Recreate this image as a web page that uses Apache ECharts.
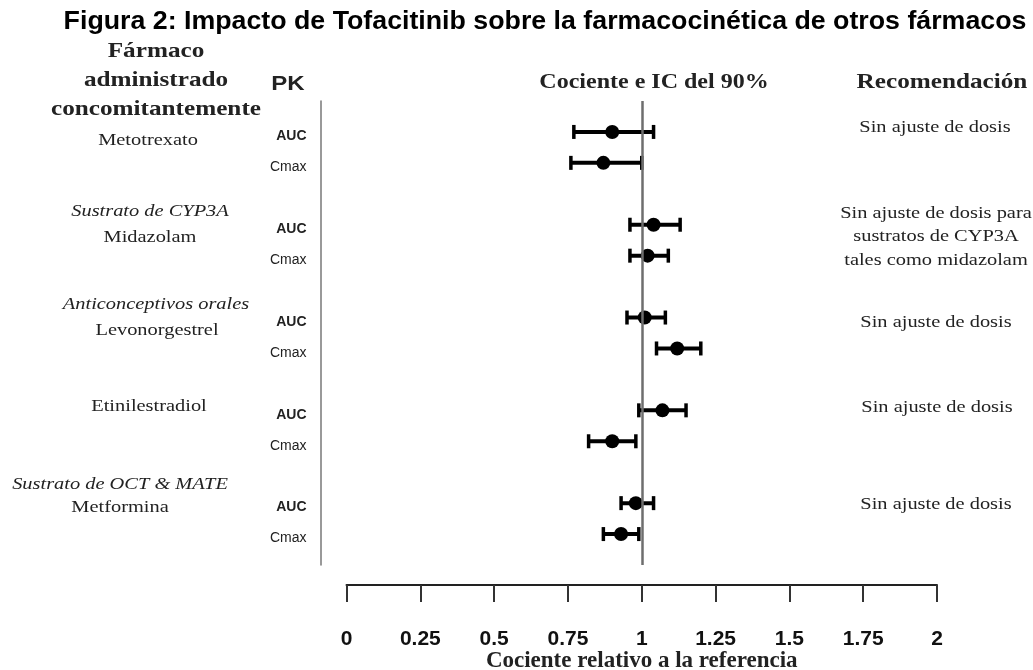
<!DOCTYPE html>
<html>
<head>
<meta charset="utf-8">
<script src="https://cdn.jsdelivr.net/npm/echarts@6/dist/echarts.min.js"></script>
<style>
html,body{margin:0;padding:0;background:#fff;}
#chart{width:1033px;height:670px;}
</style>
</head>
<body>
<div id="chart"></div>
<script>
// ---- data ----
const titleText = 'Figura 2: Impacto de Tofacitinib sobre la farmacocinética de otros fármacos';
const drugs = ['Metotrexato', 'Midazolam', 'Levonorgestrel', 'Etinilestradiol', 'Metformina'];
const drugGroups = ['', 'Sustrato de CYP3A', 'Anticonceptivos orales', '', 'Sustrato de OCT & MATE'];
const pkParams = ['AUC', 'Cmax'];
const ratioAUC = [0.90, 1.04, 1.01, 1.07, 0.98];
const lowAUC   = [0.77, 0.96, 0.95, 0.99, 0.93];
const highAUC  = [1.04, 1.13, 1.08, 1.15, 1.04];
const ratioCmax = [0.87, 1.02, 1.12, 0.90, 0.93];
const lowCmax   = [0.76, 0.96, 1.05, 0.82, 0.87];
const highCmax  = [1.00, 1.09, 1.20, 0.98, 0.99];
const recommendations = [
  'Sin ajuste de dosis',
  'Sin ajuste de dosis para\nsustratos de CYP3A\ntales como midazolam',
  'Sin ajuste de dosis',
  'Sin ajuste de dosis',
  'Sin ajuste de dosis'
];
const xTickLabels = ['0', '0.25', '0.5', '0.75', '1', '1.25', '1.5', '1.75', '2'];
const referenceRatio = 1;
const headerDrug = 'Fármaco\nadministrado\nconcomitantemente';
const headerPK = 'PK';
const headerRatio = 'Cociente e IC del 90%';
const headerRec = 'Recomendación';
const xAxisName = 'Cociente relativo a la referencia';

// ---- build rows (each drug: AUC row, Cmax row, blank gap row) ----
const rows = [];
const rowLabel = {};
drugs.forEach((d, g) => {
  rows.push([ratioAUC[g], lowAUC[g], highAUC[g], g * 3]);
  rows.push([ratioCmax[g], lowCmax[g], highCmax[g], g * 3 + 1]);
  rowLabel[g * 3] = pkParams[0];
  rowLabel[g * 3 + 1] = pkParams[1];
});

// ---- layout (text placement only) ----
const SERIF = '"Liberation Serif", "Times New Roman", serif';
const SANS = '"Liberation Sans", Arial, sans-serif';
const SX = 1.2;
function txt(text, x, y, font, opts) {
  opts = opts || {};
  return {
    type: 'text', x: x, y: y, scaleX: opts.scaleX || SX, silent: true,
    style: {
      text: text, font: font, fill: opts.fill || '#222',
      align: 'center', textAlign: 'center',
      verticalAlign: 'middle', textVerticalAlign: 'middle',
      lineHeight: opts.lineHeight || 24
    }
  };
}
const drugPos = [[148, 141], [150, 238], [157, 331], [149, 407], [120, 508]];
const groupPos = [null, [150, 212], [156, 305], null, [120, 485]];
const recPos = [[935, 128], [936, 237], [936, 323], [937, 408], [936, 505]];

const graphics = [];
graphics.push(txt(titleText, 545, 22, 'bold 25px ' + SANS, {fill: '#000', scaleX: 1.07}));
graphics.push(txt(headerDrug, 156, 81, 'bold 21px ' + SERIF, {lineHeight: 29}));
graphics.push(txt(headerPK, 288, 84, 'bold 20px ' + SANS, {fill: '#222'}));
graphics.push(txt(headerRatio, 654, 83, 'bold 20px ' + SERIF));
graphics.push(txt(headerRec, 942, 83, 'bold 21px ' + SERIF));
drugs.forEach((d, g) => {
  graphics.push(txt(d, drugPos[g][0], drugPos[g][1], '17px ' + SERIF));
  if (drugGroups[g]) {
    graphics.push(txt(drugGroups[g], groupPos[g][0], groupPos[g][1], 'italic 17px ' + SERIF));
  }
  graphics.push(txt(recommendations[g], recPos[g][0], recPos[g][1], '17px ' + SERIF, {lineHeight: 23.5}));
});

const chart = echarts.init(document.getElementById('chart'));
chart.setOption({
  backgroundColor: '#fff',
  animation: false,
  grid: {left: 346.5, right: 96, top: 101, height: 464, containLabel: false, outerBoundsMode: 'none'},
  xAxis: {
    type: 'value', min: 0, max: 2, interval: 0.25,
    position: 'bottom', offset: 20,
    axisLine: {show: true, onZero: false, lineStyle: {color: '#222', width: 2}},
    axisTick: {show: true, length: 17, lineStyle: {color: '#333', width: 2}},
    splitLine: {show: false},
    axisLabel: {
      margin: 44, color: '#111', fontFamily: SANS, fontWeight: 'bold', fontSize: 21,
      formatter: v => xTickLabels[Math.round(v / 0.25)]
    },
    name: xAxisName, nameLocation: 'middle', nameGap: 65, nameMoveOverlap: false,
    nameTextStyle: {fontFamily: SERIF, fontWeight: 'bold', fontSize: 23, color: '#222', verticalAlign: 'top'}
  },
  yAxis: {
    type: 'value', inverse: true, min: -1, max: 14, interval: 1,
    offset: 26,
    axisLine: {show: true, onZero: false, lineStyle: {color: '#777', width: 1.5}},
    axisTick: {show: false},
    splitLine: {show: false},
    axisLabel: {
      margin: 14, padding: [9, 0, 0, 0],
      formatter: v => {
        const l = rowLabel[v];
        if (!l) return '';
        return l === pkParams[0] ? '{a|' + l + '}' : '{c|' + l + '}';
      },
      rich: {
        a: {fontFamily: SANS, fontWeight: 'bold', fontSize: 14, color: '#222'},
        c: {fontFamily: SANS, fontSize: 14, color: '#222'}
      }
    }
  },
  graphic: graphics,
  series: [{
    type: 'custom',
    data: rows,
    encode: {x: [0, 1, 2], y: 3},
    renderItem: function (params, api) {
      const r = api.value(3);
      const pt = api.coord([api.value(0), r]);
      const lo = api.coord([api.value(1), r]);
      const hi = api.coord([api.value(2), r]);
      const cap = 7;
      return {
        type: 'group',
        children: [
          {type: 'line', shape: {x1: lo[0], y1: lo[1], x2: hi[0], y2: hi[1]}, style: {stroke: '#000', lineWidth: 4}},
          {type: 'line', shape: {x1: lo[0], y1: lo[1] - cap, x2: lo[0], y2: lo[1] + cap}, style: {stroke: '#000', lineWidth: 3.5}},
          {type: 'line', shape: {x1: hi[0], y1: hi[1] - cap, x2: hi[0], y2: hi[1] + cap}, style: {stroke: '#000', lineWidth: 3.5}},
          {type: 'circle', shape: {cx: pt[0], cy: pt[1], r: 7}, style: {fill: '#000'}}
        ]
      };
    },
    markLine: {
      silent: true, symbol: 'none', animation: false,
      label: {show: false},
      lineStyle: {color: '#6e6e6e', width: 2.5, type: 'solid'},
      data: [{xAxis: referenceRatio}]
    },
    z: 3
  }]
});
</script>
</body>
</html>
